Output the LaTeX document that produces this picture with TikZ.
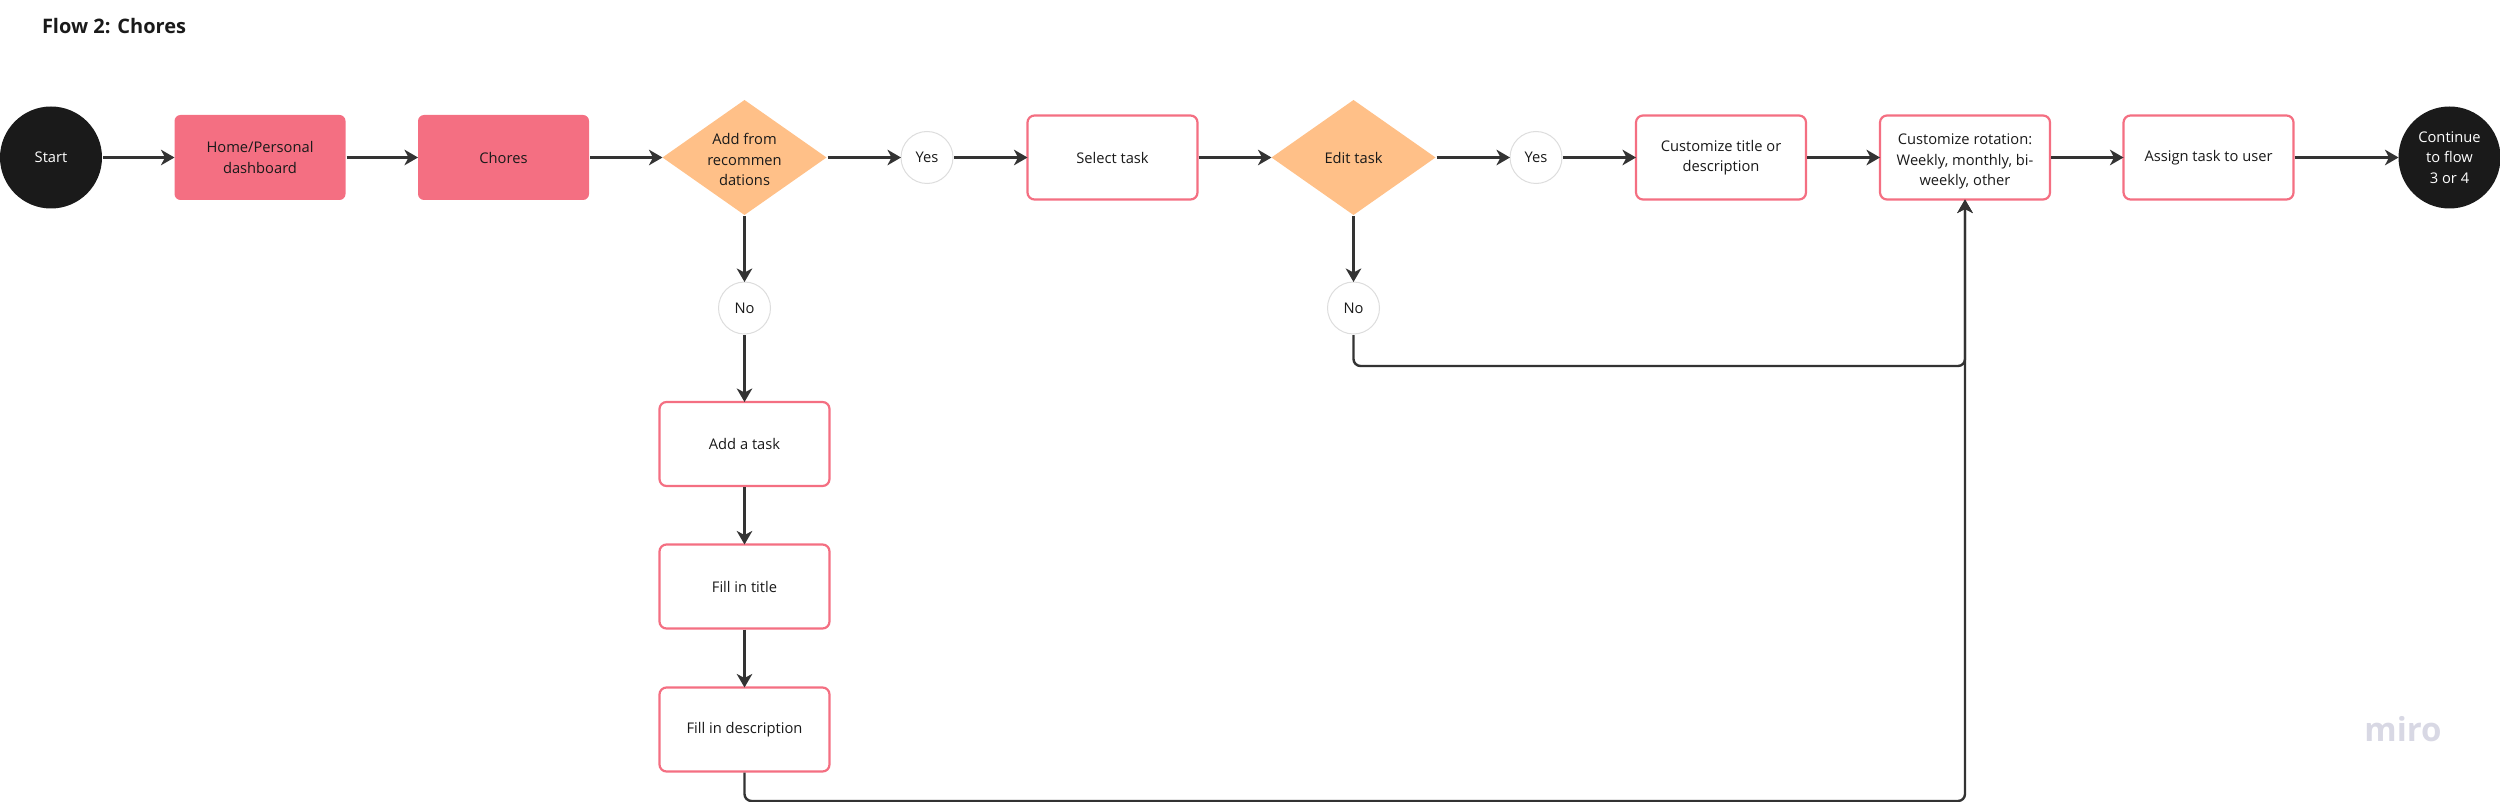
\documentclass[tikz,border=0pt]{standalone}
\usepackage{fontspec}
\setmainfont{Open Sans}
\usetikzlibrary{arrows.meta,shapes.geometric}
\definecolor{pinkc}{HTML}{F46F82}
\definecolor{orangec}{HTML}{FFC088}
\definecolor{blackc}{HTML}{1A1A1A}
\definecolor{linec}{HTML}{333333}
\definecolor{ringc}{HTML}{DDDDDD}
\definecolor{miroc}{HTML}{D8D8E4}
\tikzset{
  x=1pt,y=-1pt,
  every node/.style={font=\fontsize{14.7}{20.5}\selectfont,text=blackc,align=center,inner sep=0pt,outer sep=0pt},
  filledbox/.style={rectangle,rounded corners=6pt,fill=pinkc,minimum width=171pt,minimum height=85pt},
  plainbox/.style={rectangle,rounded corners=7pt,draw=pinkc,line width=2.2pt,fill=white,minimum width=170pt,minimum height=84pt},
  choice/.style={diamond,aspect=1.426,fill=orangec,minimum width=164pt,minimum height=115pt},
  ring/.style={circle,draw=ringc,line width=1pt,fill=white,minimum size=52pt},
  term/.style={circle,fill=blackc,minimum size=102pt,text=white},
  flow/.style={draw=linec,line width=2.4pt,-{Stealth[length=13.5pt,width=15.5pt,inset=4pt]},shorten <=1pt},
  elbow/.style={flow,rounded corners=7pt},
}
\begin{document}
\begin{tikzpicture}
\useasboundingbox (0,0) rectangle (2500,802);
\node[font=\fontsize{20}{24}\selectfont\bfseries,anchor=west] (title) at (42,26.5) {Flow 2: Chores};
\node[term] (start) at (51,157.5) {Start};
\node[filledbox] (home) at (260,157.5) {Home/Personal\\dashboard};
\node[filledbox] (chores) at (503.5,157.5) {Chores};
\node[choice,label={[yshift=-2pt]center:Add from\\recommen\\dations}] (addrec) at (744.5,157.5) {};
\node[ring] (yes1) at (927,157.5) {Yes};
\node[plainbox] (select) at (1112.5,157.5) {Select task};
\node[choice] (edit) at (1353.5,157.5) {Edit task};
\node[ring] (yes2) at (1536,157.5) {Yes};
\node[plainbox] (title2) at (1721,157.5) {Customize title or\\description};
\node[plainbox,label={[yshift=-4pt]center:Customize rotation:\\Weekly, monthly, bi-\\weekly, other}] (rot) at (1965,157.5) {};
\node[plainbox] (assign) at (2208.5,157.5) {Assign task to user};
\node[term] (cont) at (2449.5,157.5) {Continue\\to flow\\3 or 4};
\node[ring] (no1) at (744.5,308) {No};
\node[ring] (no2) at (1353.5,308) {No};
\node[plainbox] (addtask) at (744.5,444) {Add a task};
\node[plainbox] (filltitle) at (744.5,586.5) {Fill in title};
\node[plainbox] (filldesc) at (744.5,729.5) {Fill in description};
\node[font=\fontsize{33}{33}\selectfont\bfseries,text=miroc] (miro) at (2403,729) {miro};
\coordinate (c1) at (1353.5,366);
\coordinate (c2) at (1965,366);
\coordinate (c3) at (744.5,801);
\coordinate (c4) at (1965,801);
\draw[flow] (start) -- (home);
\draw[flow] (home) -- (chores);
\draw[flow] (chores) -- (addrec);
\draw[flow] (addrec) -- (yes1);
\draw[flow] (yes1) -- (select);
\draw[flow] (select) -- (edit);
\draw[flow] (edit) -- (yes2);
\draw[flow] (yes2) -- (title2);
\draw[flow] (title2) -- (rot);
\draw[flow] (rot) -- (assign);
\draw[flow] (assign) -- (cont);
\draw[flow] (addrec) -- (no1);
\draw[flow] (no1) -- (addtask);
\draw[flow] (addtask) -- (filltitle);
\draw[flow] (filltitle) -- (filldesc);
\draw[flow] (edit) -- (no2);
\draw[elbow] (no2) -- (c1) -- (c2) -- (rot.south);
\draw[elbow] (filldesc) -- (c3) -- (c4) -- (rot.south);
\end{tikzpicture}
\end{document}
